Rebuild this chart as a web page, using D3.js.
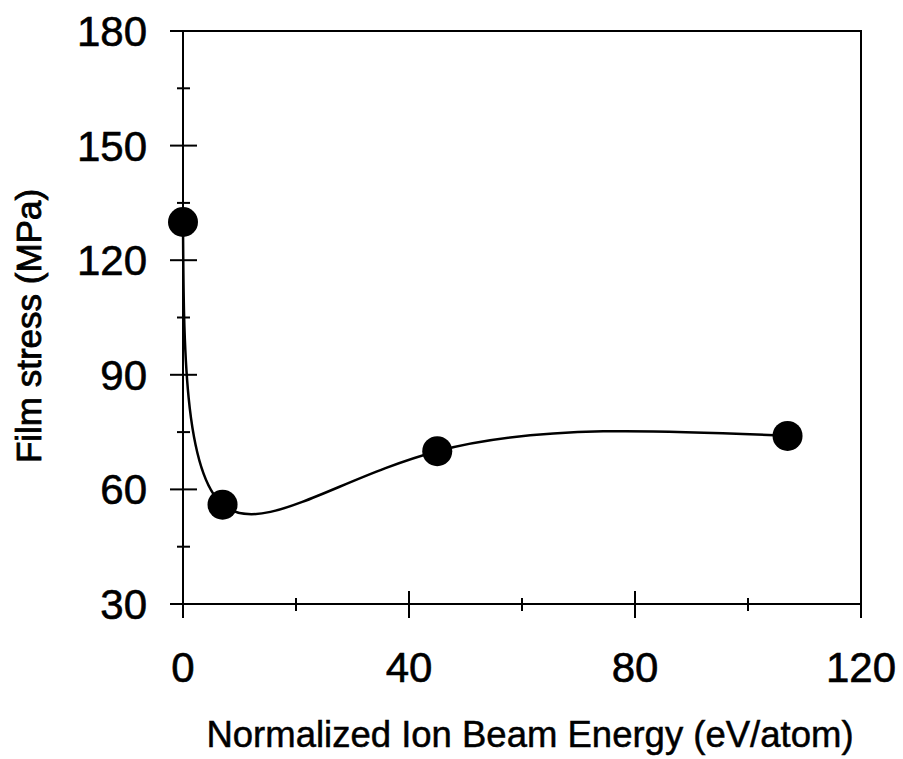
<!DOCTYPE html>
<html><head><meta charset="utf-8">
<script src="https://cdn.jsdelivr.net/npm/d3@7"></script>
<style>body{margin:0;background:#fff}text{font-family:"Liberation Sans",Arial,sans-serif;fill:#000}</style>
</head><body>
<script>
const energy = [0, 7, 45, 107];
const stress = [130, 56, 70, 74];
const xMajor = [0, 40, 80, 120];
const xMinor = [20, 60, 100];
const yMajor = [30, 60, 90, 120, 150, 180];
const yMinor = [45, 75, 105, 135, 165];

const W = 903, H = 759;
const svg = d3.select("body").append("svg").attr("width", W).attr("height", H);
const x = d3.scaleLinear().domain([0, 120]).range([183, 861]);
const y = d3.scaleLinear().domain([30, 180]).range([604, 31]);

// frame
svg.append("rect").attr("x", x(0)).attr("y", y(180)).attr("width", x(120) - x(0)).attr("height", y(30) - y(180))
  .attr("fill", "none").attr("stroke", "#000").attr("stroke-width", 2);

// y ticks
svg.selectAll(".ymaj").data(yMajor).enter().append("line")
  .attr("x1", x(0) - 13).attr("x2", x(0) + 14).attr("y1", d => y(d)).attr("y2", d => y(d))
  .attr("stroke", "#000").attr("stroke-width", 2);
svg.selectAll(".ymin").data(yMinor).enter().append("line")
  .attr("x1", x(0) - 6).attr("x2", x(0) + 7).attr("y1", d => y(d)).attr("y2", d => y(d))
  .attr("stroke", "#000").attr("stroke-width", 2);
svg.selectAll(".ylab").data(yMajor).enter().append("text")
  .attr("x", 147).attr("y", d => y(d) + 15).attr("text-anchor", "end").attr("font-size", 42)
  .attr("stroke", "#000").attr("stroke-width", 0.6).text(d => d);

// x ticks
svg.selectAll(".xmaj").data(xMajor).enter().append("line")
  .attr("y1", y(30) - 13).attr("y2", y(30) + 14).attr("x1", d => x(d)).attr("x2", d => x(d))
  .attr("stroke", "#000").attr("stroke-width", 2);
svg.selectAll(".xmin").data(xMinor).enter().append("line")
  .attr("y1", y(30) - 6).attr("y2", y(30) + 7).attr("x1", d => x(d)).attr("x2", d => x(d))
  .attr("stroke", "#000").attr("stroke-width", 2);
svg.selectAll(".xlab").data(xMajor).enter().append("text")
  .attr("x", d => x(d)).attr("y", 682).attr("text-anchor", "middle").attr("font-size", 42)
  .attr("stroke", "#000").attr("stroke-width", 0.6).text(d => d);

// titles
svg.append("text").attr("x", 530).attr("y", 747).attr("text-anchor", "middle").attr("font-size", 36.5)
  .attr("stroke", "#000").attr("stroke-width", 0.5)
  .text("Normalized Ion Beam Energy (eV/atom)");
svg.append("text").attr("transform", "translate(41,326) rotate(-90)").attr("text-anchor", "middle").attr("font-size", 35)
  .attr("stroke", "#000").attr("stroke-width", 0.8)
  .text("Film stress (MPa)");

const data = energy.map((e, i) => ({ e, s: stress[i] }));
const line = d3.line().x(d => x(d.e)).y(d => y(d.s)).curve(d3.curveNatural);
svg.append("path").datum(data).attr("d", line).attr("fill", "none").attr("stroke", "#000").attr("stroke-width", 2.5);

svg.selectAll(".pt").data(data).enter().append("circle")
  .attr("cx", d => x(d.e)).attr("cy", d => y(d.s)).attr("r", 15).attr("fill", "#000");
</script>
</body></html>
